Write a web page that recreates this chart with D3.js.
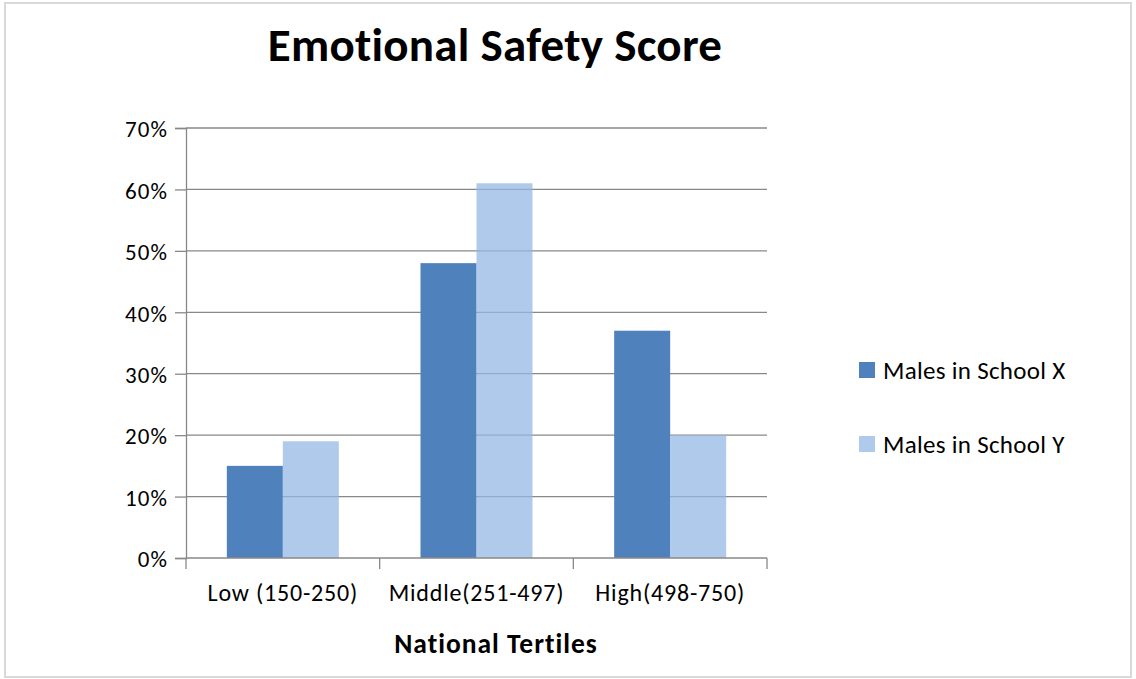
<!DOCTYPE html>
<html>
<head>
<meta charset="utf-8">
<script src="https://cdn.jsdelivr.net/npm/d3@7"></script>
<style>
  body { margin: 0; background: #fff; }
  svg text { font-family: Carlito, Lato, sans-serif; fill: #000; }
</style>
</head>
<body>
<div id="chart"></div>
<script>
var categories = ["Low (150-250)", "Middle(251-497)", "High(498-750)"];
var seriesNames = ["Males in School X", "Males in School Y"];
var schoolX = [0.15, 0.48, 0.37];
var schoolY = [0.19, 0.61, 0.20];
var yTicks = [0, 0.1, 0.2, 0.3, 0.4, 0.5, 0.6, 0.7];

var colors = ["#4f81bd", "#96b8e4"];
var opac = [1, 0.75];

var svg = d3.select("#chart").append("svg")
  .attr("width", 1136)
  .attr("height", 679);

// outer frame
svg.append("rect")
  .attr("x", 5).attr("y", 3)
  .attr("width", 1126).attr("height", 674)
  .attr("fill", "#fff")
  .attr("stroke", "#d9d9d9")
  .attr("stroke-width", 2);

var y = d3.scaleLinear().domain([0, 0.7]).range([558, 128]);
var x = d3.scaleBand().domain(categories).range([186, 767]);
var xs = d3.scaleBand().domain(seriesNames).range([0, x.bandwidth()]).paddingOuter(0.729);

// gridlines
svg.append("g").selectAll("line")
  .data(yTicks.slice(1))
  .enter().append("line")
  .attr("x1", 186).attr("x2", 767)
  .attr("y1", function(d) { return y(d); })
  .attr("y2", function(d) { return y(d); })
  .attr("stroke", "#888")
  .attr("stroke-width", 1.3);

// bars
var data = [schoolX, schoolY];
data.forEach(function(vals, s) {
  svg.append("g").selectAll("rect")
    .data(vals)
    .enter().append("rect")
    .attr("x", function(d, i) { return x(categories[i]) + xs(seriesNames[s]); })
    .attr("width", xs.bandwidth())
    .attr("y", function(d) { return y(d); })
    .attr("height", function(d) { return y(0) - y(d); })
    .attr("fill", colors[s])
    .attr("fill-opacity", opac[s]);
});

// y axis
var yAxis = svg.append("g")
  .attr("transform", "translate(186,0)")
  .call(d3.axisLeft(y).tickValues(yTicks).tickFormat(d3.format(".0%")).tickSize(11).tickPadding(7));
yAxis.attr("font-size", null).attr("font-family", null);
yAxis.select(".domain").attr("stroke", "#888").attr("stroke-width", 1.3);
yAxis.selectAll(".tick line").attr("stroke", "#888").attr("stroke-width", 1.3);
yAxis.selectAll("text").style("font-size", "23px").style("letter-spacing", "1.1px").attr("dy", "0.38em");

// x axis
var xAxis = svg.append("g")
  .attr("transform", "translate(0,558)")
  .call(d3.axisBottom(x).tickSize(0).tickPadding(26));
xAxis.attr("font-size", null).attr("font-family", null);
xAxis.select(".domain").remove();
xAxis.selectAll("text").style("font-size", "24px").style("letter-spacing", "0.8px");
xAxis.append("line")
  .attr("x1", 186).attr("x2", 767)
  .attr("stroke", "#888").attr("stroke-width", 1.3);
var edges = categories.map(function(c) { return x(c); }).concat([x.range()[1]]);
xAxis.selectAll(".edge")
  .data(edges)
  .enter().append("line")
  .attr("class", "edge")
  .attr("x1", function(d) { return d; })
  .attr("x2", function(d) { return d; })
  .attr("y1", 0).attr("y2", 11)
  .attr("stroke", "#888").attr("stroke-width", 1.3);

// title
svg.append("text")
  .attr("x", 495).attr("y", 61)
  .attr("text-anchor", "middle")
  .style("font-size", "47px")
  .style("letter-spacing", "0.27px")
  .attr("font-weight", "bold")
  .text("Emotional Safety Score");

svg.append("text")
  .attr("x", 496).attr("y", 653)
  .attr("text-anchor", "middle")
  .style("font-size", "27.5px")
  .style("letter-spacing", "1px")
  .attr("font-weight", "bold")
  .text("National Tertiles");

// legend
var legend = svg.append("g").selectAll("g")
  .data(seriesNames)
  .enter().append("g")
  .attr("transform", function(d, i) { return "translate(859," + (362 + i * 74) + ")"; });
legend.append("rect")
  .attr("width", 16).attr("height", 16)
  .attr("fill", function(d, i) { return colors[i]; })
  .attr("fill-opacity", function(d, i) { return opac[i]; });
legend.append("text")
  .attr("x", 24).attr("y", 17)
  .style("font-size", "25px")
  .style("letter-spacing", "0.3px")
  .text(function(d) { return d; });
</script>
</body>
</html>
